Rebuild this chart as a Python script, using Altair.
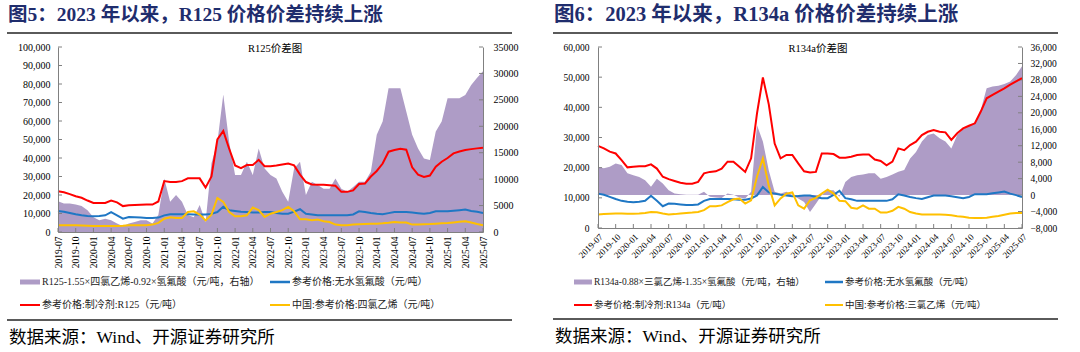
import altair as alt
import pandas as pd

# ---------------- categories ----------------
months = []
yy, mm = 2019, 7
for _ in range(73):
    months.append(f"{yy}-{mm:02d}")
    mm += 1
    if mm > 12:
        mm, yy = 1, yy + 1
quarter_idx = list(range(0, 73, 3))
quarter_labels = [months[i] for i in quarter_idx]

# ---------------- series (monthly, 2019-07 .. 2025-07) ----------------
r125_price = [22000, 21500, 20500, 19300, 18500, 17000,
              15700, 15700, 15700, 17000, 16000, 14000, 14500, 14600, 14700, 14800, 14800, 16500,
              27500, 27000, 27000, 27500, 29000, 29000, 29000, 24000, 30000, 50000, 54600, 45000,
              36000, 34500, 36200, 36200, 39000, 35600, 35600, 36000, 36500, 37000, 36000, 31000,
              27000, 25700, 25500, 25500, 25300, 25000, 21700, 21700, 22500, 25900, 26200, 30000,
              33000, 37000, 43400, 44300, 45000, 44500, 35000, 31000, 29800, 30500, 35300, 38000,
              40000, 42500, 43500, 44300, 44800, 45200, 45600]
hf_price = [11400, 11000, 10300, 9600, 9000, 8700,
            8500, 8700, 9000, 10700, 9000, 7200, 8100, 8000, 7800, 7600, 7600, 7800,
            9000, 9600, 9600, 9600, 9600, 9500, 9400, 9400, 9800, 10800, 13600, 11800,
            11400, 11000, 10800, 10500, 10600, 10800, 10800, 10300, 9900, 9900, 11000, 12300,
            9900, 9500, 9000, 9000, 9000, 9000, 9000, 9000, 9500, 11200, 10800, 10300,
            9900, 9600, 10200, 10800, 10800, 10800, 10500, 10200, 9900, 10300, 11200, 11200,
            11200, 11500, 11800, 12100, 11400, 10900, 10300]
pce_price = [3600, 3600, 3600, 3600, 3500, 3400,
             3300, 3300, 3300, 3300, 3300, 3400, 3600, 3600, 3600, 3600, 4000, 4900,
             7200, 8000, 7600, 7600, 10800, 11200, 9400, 6300, 9400, 18400, 16300, 10800,
             8500, 8500, 9000, 13200, 11800, 8100, 9900, 10800, 11800, 13600, 11200, 6900,
             6900, 6300, 6700, 5800, 5400, 4000, 3600, 3700, 4000, 4200, 4300, 4400,
             4500, 4700, 5000, 5400, 5200, 5100, 4000, 4000, 4200, 4300, 4500, 4700,
             4900, 5200, 5500, 5800, 5100, 4300, 3600]
r125_spread = [5800, 5400, 5400, 5200, 4900, 4100,
               2800, 2200, 2500, 2200, 1600, 1100, 1600, 1900, 2200, 2200, 1600, 3200,
               10100, 5700, 7000, 5700, 3200, 2800, 5100, 1900, 13000, 17000, 26000, 17000,
               10800, 10800, 13300, 10800, 15800, 12000, 10800, 10100, 7600, 5700, 12000, 13300,
               7000, 9500, 8900, 8200, 8200, 10100, 8200, 7600, 8500, 9500, 9500, 11400,
               18400, 20900, 27200, 27200, 27200, 22800, 18400, 15800, 13900, 13600, 19000, 20900,
               25300, 25300, 25300, 25900, 27800, 29200, 30400]

r134a_price = [27200, 26400, 25300, 24700, 22500, 20100,
               20300, 20500, 20500, 21100, 19700, 17000, 16200, 15600, 15000, 14700, 14700, 15300,
               18100, 18600, 18800, 19700, 22000, 22000, 20300, 18600, 23100, 38000, 49900, 41000,
               28000, 23100, 24200, 24200, 21400, 18800, 18400, 18600, 24700, 24700, 24500, 23300,
               23300, 23600, 24200, 24400, 24400, 22700, 22200, 20800, 22000, 26400, 25800, 27500,
               28600, 30800, 31900, 32500, 31900, 31700, 29200, 31400, 33000, 33900, 34700, 38600,
               43000, 44100, 45200, 46300, 47500, 48600, 49700]
tce_price = [4500, 4600, 4700, 4800, 4800, 4700,
             4700, 4800, 5000, 5300, 5200, 4800, 4500, 4600, 4800, 5000, 5100, 5300,
             5900, 7200, 7200, 7500, 8600, 9500, 9800, 8100, 9200, 17000, 23100, 14000,
             7500, 9800, 11400, 11800, 7500, 6400, 9200, 10000, 11400, 12700, 11400, 9000,
             8900, 6700, 6400, 7500, 6400, 6400, 5100, 5100, 5700, 7000, 6400, 5300,
             4800, 4500, 4500, 4500, 4500, 4400, 4200, 3900, 3700, 3400, 3300, 3300,
             3400, 3700, 4000, 4400, 4800, 5000, 5000]
r134a_spread = [6900, 6500, 6900, 7700, 7300, 5300,
                4800, 4400, 3600, 2000, 4000, 2800, 1200, 400, 200, 100, 100, 100,
                800, -400, -600, -700, 400, 100, -600, -800, 800, 17000, 13000, 6000,
                800, 400, 800, 0, -800, -1700, -4100, -2100, 0, 1200, 1200, -400,
                3200, 4400, 4800, 5000, 5300, 5300, 4000, 4400, 5000, 5700, 6100, 8900,
                10500, 13000, 14600, 15000, 13800, 13000, 11300, 14600, 16000, 16900, 17400, 20700,
                26000, 26400, 26600, 27000, 27600, 29200, 31300]

# ---------------- styles ----------------
PURPLE = "#AE9CC6"
RED = "#FF0000"
BLUE = "#1F77C4"
YELLOW = "#FFC000"
AXIS = "#808080"
NAVY = "#1f2d6d"
SERIF = "Liberation Serif, Noto Sans CJK SC"

one = pd.DataFrame({"k": [0]})
label_expr = "[" + ",".join(f"'{s}'" for s in quarter_labels) + "][round(datum.value/3)]"


def txt(x, y, s, size, weight="normal", color="black", align="left", font=SERIF):
    return alt.Chart(one).mark_text(text=s, fontSize=size, font=font, fontWeight=weight,
                                    color=color, align=align, baseline="middle").encode(
        x=alt.value(x), y=alt.value(y))


def hrule(x1, x2, y, color, w):
    return alt.Chart(one).mark_rule(color=color, strokeWidth=w).encode(
        x=alt.value(x1), x2=alt.value(x2), y=alt.value(y))


def box(x1, x2, y1, y2, color):
    return alt.Chart(one).mark_rect(color=color).encode(
        x=alt.value(x1), x2=alt.value(x2), y=alt.value(y1), y2=alt.value(y2))


def panel(c):
    W, H = c["W"], c["H"]
    df = pd.DataFrame({"m": list(range(73)), "red": c["red"], "blue": hf_price,
                       "yellow": c["yellow"], "spread": c["spread"]})
    xscale = alt.Scale(domain=[0, 72], nice=False, zero=False)
    xenc = alt.X("m:Q", scale=xscale, title=None,
                 axis=alt.Axis(values=quarter_idx, labelExpr=label_expr, labelAngle=c["xangle"],
                               labelFont=SERIF, labelFontSize=c["xfs"], labelColor="black",
                               domainColor=AXIS, ticks=False, grid=False, labelPadding=4,
                               labelOverlap=False, title=None, zindex=1))
    lscale = alt.Scale(domain=c["ldom"], nice=False, zero=False)
    rscale = alt.Scale(domain=c["rdom"], nice=False, zero=False)
    yl = lambda f, ax: alt.Y(f"{f}:Q", scale=lscale, title=None, axis=ax)
    left_axis = alt.Axis(orient="left", values=c["lticks"], format=",.0f", labelFont=SERIF,
                         labelFontSize=c["yfs"], labelColor="black", domainColor=AXIS,
                         ticks=False, grid=False, labelPadding=c["lpad"], title=None, zindex=1)
    right_axis = alt.Axis(orient="right", values=c["rticks"], format=c["rfmt"], labelFont=SERIF,
                          labelFontSize=c["yfs"], labelColor="black", domainColor=AXIS,
                          ticks=False, grid=False, labelPadding=c["rpad"], title=None, zindex=1)

    base = alt.Chart(df)
    area = base.mark_area(color=PURPLE, opacity=1).encode(
        x=xenc, y=alt.Y("spread:Q", scale=rscale, title=None, axis=right_axis))
    blue = base.mark_line(color=BLUE, strokeWidth=2).encode(x=xenc, y=yl("blue", None))
    red = base.mark_line(color=RED, strokeWidth=2).encode(x=xenc, y=yl("red", left_axis))
    yellow = base.mark_line(color=YELLOW, strokeWidth=2).encode(x=xenc, y=yl("yellow", None))

    xt = alt.Chart(pd.DataFrame({"m": quarter_idx})).mark_rule(color=AXIS).encode(
        x=xenc, y=alt.value(H), y2=alt.value(H - 4))
    ylt = alt.Chart(pd.DataFrame({"v": c["lticks"]})).mark_rule(color=AXIS).encode(
        y=alt.Y("v:Q", scale=lscale, axis=None), x=alt.value(0), x2=alt.value(4))
    yrt = alt.Chart(pd.DataFrame({"v": c["rticks"]})).mark_rule(color=AXIS).encode(
        y=alt.Y("v:Q", scale=rscale, axis=None), x=alt.value(W - 4), x2=alt.value(W))

    o = c["ox"]  # left edge of the panel frame relative to plot origin
    lf = c["legfs"]
    deco = [
        txt(o + 1, -32, c["title"], c["tfs"], weight="bold", color=NAVY),
        hrule(o, o + 505, -14, "#5a5a5a", 2),
        txt(c["ictr"], 2, c["inner"], 10.5, align="center"),
        box(c["l1"], c["l1"] + c["sw"], 232.5, 237.5, PURPLE),
        txt(c["l1"] + c["sw"] + 2, 235, c["n_spread"], lf, color="#222222"),
        hrule(c["l2"], c["l2"] + c["sw"], 235, BLUE, 2.5),
        txt(c["l2"] + c["sw"] + 2, 235, "参考价格:无水氢氟酸（元/吨）", lf, color="#222222"),
        hrule(c["l1"], c["l1"] + c["sw"], 258, RED, 2),
        txt(c["l1"] + c["sw"] + 2, 258, c["n_red"], lf, color="#222222"),
        hrule(c["l2"], c["l2"] + c["sw"], 258, YELLOW, 2),
        txt(c["l2"] + c["sw"] + 2, 258, c["n_yellow"], lf, color="#222222"),
        hrule(o, o + 505, c["sepy"], "#5a5a5a", 2.2),
        txt(o + 2, c["sepy"] + 18, "数据来源：Wind、开源证券研究所", 17.5),
    ]
    layers = list(c.get("pre", [])) + [area, xt, ylt, yrt, blue, red, yellow] + deco
    return alt.layer(*layers).resolve_scale(y="independent").properties(width=W, height=H)


left = panel(dict(
    W=425, H=185, red=r125_price, yellow=pce_price, spread=r125_spread,
    ldom=[0, 100000], lticks=list(range(0, 100001, 10000)),
    rdom=[0, 35000], rticks=list(range(0, 35001, 5000)), rfmt="d",
    xangle=-90, xfs=9.5, yfs=10, lpad=8, rpad=10,
    title="图5：2023 年以来，R125 价格价差持续上涨", inner="R125价差图", ictr=217, tfs=19.5,
    n_spread="R125-1.55×四氯乙烯-0.92×氢氟酸（元/吨，右轴）",
    n_red="参考价格:制冷剂:R125（元/吨）", n_yellow="中国:参考价格:四氯乙烯（元/吨）",
    ox=-51, l1=-38, l2=212, sw=20, legfs=10, sepy=273,
    pre=[box(-58, 1022, -47, 305, "white")],
))

right = panel(dict(
    W=424, H=181, red=r134a_price, yellow=tce_price, spread=r134a_spread,
    ldom=[0, 60000], lticks=list(range(0, 60001, 10000)),
    rdom=[-8000, 36000], rticks=list(range(-8000, 36001, 4000)), rfmt=",.0f",
    xangle=-45, xfs=9, yfs=9.5, lpad=9, rpad=8,
    title="图6：2023 年以来，R134a 价格价差持续上涨", inner="R134a价差图", ictr=220, tfs=20.5,
    n_spread="R134a-0.88×三氯乙烯-1.35×氢氟酸（元/吨，右轴）",
    n_red="参考价格:制冷剂:R134a（元/吨）", n_yellow="中国:参考价格:三氯乙烯（元/吨）",
    ox=-45, l1=-24, l2=227, sw=18, legfs=9.5, sepy=272,
))

chart = alt.hconcat(left, right, spacing=115, bounds="flush").properties(
    padding=0, background="white"
).configure_view(stroke=None)

chart.save("out.html", embed_options={"renderer": "svg", "actions": False})
